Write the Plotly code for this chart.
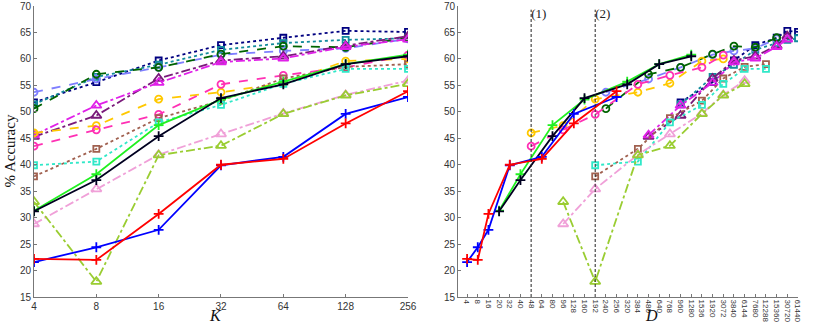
import plotly.graph_objects as go
from plotly.subplots import make_subplots

# datos
K = [4, 8, 16, 32, 64, 128, 256]
D_TICKS = [4, 8, 16, 20, 32, 40, 48, 64, 80, 96, 128, 160, 192, 240, 256, 320,
           384, 480, 640, 768, 960, 1280, 1536, 1920, 3072, 3840, 6144, 7680,
           12288, 15360, 30720, 61440]

# D de cada grupo de series
D_1 = [4, 8, 16, 32, 64, 128, 256]
D_5 = [20, 40, 80, 160, 320, 640, 1280]
D_12 = [48, 96, 192, 384, 768, 1536, 3072]
D_24 = [96, 192, 384, 768, 1536, 3072, 6144]
D_48 = [192, 384, 768, 1536, 3072, 6144, 12288]
D_60 = [240, 480, 960, 1920, 3840, 7680, 15360]
D_120 = [480, 960, 1920, 3840, 7680, 15360, 30720]
D_240 = [960, 1920, 3840, 7680, 15360, 30720, 61440]

acc_navy = [51.8, 55.6, 59.7, 62.6, 64.0, 65.3, 65.1]
acc_teal = [51.4, 56.6, 58.9, 61.7, 63.0, 63.6, 63.9]
acc_lightblue = [53.7, 56.2, 58.4, 60.8, 61.5, 62.0, 63.8]
acc_darkgreen = [50.6, 57.1, 58.4, 60.9, 62.4, 62.2, 64.0]
acc_purple = [45.3, 49.3, 56.3, 59.7, 60.5, 62.5, 64.3]
acc_magenta = [45.6, 51.2, 55.5, 59.4, 60.1, 62.3, 63.7]
acc_gold = [46.0, 47.4, 52.4, 53.7, 55.4, 59.6, 60.0]
acc_pink = [43.5, 46.6, 49.5, 55.2, 56.9, 58.4, 60.7]
acc_brown = [37.8, 43.0, 48.8, 52.1, 56.3, 58.5, 59.0]
acc_cyan = [39.9, 40.6, 48.0, 51.3, 55.3, 58.1, 58.1]
acc_green = [31.3, 38.2, 47.5, 52.3, 55.7, 59.0, 60.8]
acc_black = [31.2, 37.1, 45.4, 52.6, 55.2, 59.0, 60.5]
acc_lightpink = [28.8, 35.4, 41.9, 45.8, 49.7, 53.2, 55.9]
acc_yellowgreen = [33.0, 17.9, 41.8, 43.6, 49.6, 53.1, 55.3]
acc_blue = [21.6, 24.4, 27.7, 39.9, 41.5, 49.6, 52.8]
acc_red = [22.2, 22.0, 30.7, 40.0, 41.1, 47.8, 53.9]

# (valores, D, color, linea, marcador, tamaño)
series = [
    (acc_navy, D_240, '#000080', 'dot', 'square-open', 6),
    (acc_teal, D_240, '#138c9c', 'dot', 'square-open', 6),
    (acc_lightblue, D_60, '#7f7fff', 'dash', 'circle-open', 7),
    (acc_darkgreen, D_60, '#006400', 'dash', 'circle-open', 7),
    (acc_purple, D_120, '#7a1a7a', 'dashdot', 'triangle-up-open', 9),
    (acc_magenta, D_120, '#e020e8', 'dashdot', 'triangle-up-open', 9),
    (acc_gold, D_12, '#ffc800', 'dash', 'circle-open', 7),
    (acc_pink, D_12, '#ff30b4', 'dash', 'circle-open', 7),
    (acc_brown, D_48, '#a0604f', 'dot', 'square-open', 6),
    (acc_cyan, D_48, '#30e8c8', 'dot', 'square-open', 6),
    (acc_lightpink, D_24, '#f0a0d8', 'dashdot', 'triangle-up-open', 9),
    (acc_yellowgreen, D_24, '#9acd32', 'dashdot', 'triangle-up-open', 9),
    (acc_green, D_5, '#20f020', 'solid', 'cross-thin-open', 7),
    (acc_black, D_5, '#000020', 'solid', 'cross-thin-open', 7),
    (acc_blue, D_1, '#0000ff', 'solid', 'cross-thin-open', 7),
    (acc_red, D_1, '#ff0000', 'solid', 'cross-thin-open', 7),
]

fig = make_subplots(rows=1, cols=2)

for vals, ds, col, dash, sym, size in series:
    mk = dict(symbol=sym, size=size, color=col, line=dict(color=col, width=1.8))
    ln = dict(color=col, width=1.8, dash=dash)
    fig.add_trace(go.Scatter(x=K, y=vals, mode='lines+markers', line=ln, marker=mk,
                             showlegend=False), row=1, col=1)
    fig.add_trace(go.Scatter(x=[str(d) for d in ds], y=vals, mode='lines+markers',
                             line=ln, marker=mk, showlegend=False), row=1, col=2)

# lineas verticales (1) y (2)
for d, lab in [(48, '(1)'), (192, '(2)')]:
    fig.add_trace(go.Scatter(x=[str(d), str(d)], y=[15, 69.3], mode='lines',
                             line=dict(color='#222222', width=1, dash='3px,2px'),
                             showlegend=False), row=1, col=2)
    fig.add_trace(go.Scatter(x=[str(d)], y=[68.4], mode='text', text=[lab],
                             textposition='middle right',
                             textfont=dict(family='Liberation Serif', size=13, color='#222'),
                             showlegend=False), row=1, col=2)

axis_common = dict(showgrid=False, zeroline=False, showline=True, linecolor='#777',
                   linewidth=1, ticks='inside', ticklen=3, tickcolor='#777',
                   automargin=False, ticklabeloverflow='allow',
                   tickfont=dict(family='Liberation Sans', size=10, color='#333'))

fig.update_xaxes(type='log', range=[0.60206, 2.40824], tickvals=K, domain=[0, 0.4895],
                 ticktext=[str(k) for k in K], row=1, col=1, **axis_common)
fig.update_xaxes(type='category', categoryorder='array', domain=[0.555, 1],
                 categoryarray=[str(d) for d in D_TICKS], range=[-0.85, 31.0],
                 tickangle=90, row=1, col=2,
                 **{**axis_common, 'tickfont': dict(family='Liberation Sans', size=8, color='#333')})
fig.update_yaxes(range=[15, 70], dtick=5, **axis_common)

fig.update_layout(
    width=830, height=330,
    margin=dict(l=34, r=32, t=6, b=33),
    plot_bgcolor='white', paper_bgcolor='white',
    annotations=[
        dict(text='% Accuracy', xref='paper', yref='paper', x=0, y=0.5, xshift=-25,
             xanchor='center', yanchor='middle', textangle=-90, showarrow=False,
             font=dict(family='Liberation Serif', size=15, color='#111')),
        dict(text='<i>K</i>', xref='paper', yref='paper', x=0.226, y=0, yshift=-29,
             showarrow=False, font=dict(family='Liberation Serif', size=16, color='#111')),
        dict(text='<i>D</i>', xref='paper', yref='paper', x=0.819, y=0, yshift=-29,
             showarrow=False, font=dict(family='Liberation Serif', size=16, color='#111')),
    ],
)

# sin margen del body para que la figura empiece en (0,0)
fig.write_html("out.html", config={'displayModeBar': False},
               post_script="document.body.style.margin='0';")
